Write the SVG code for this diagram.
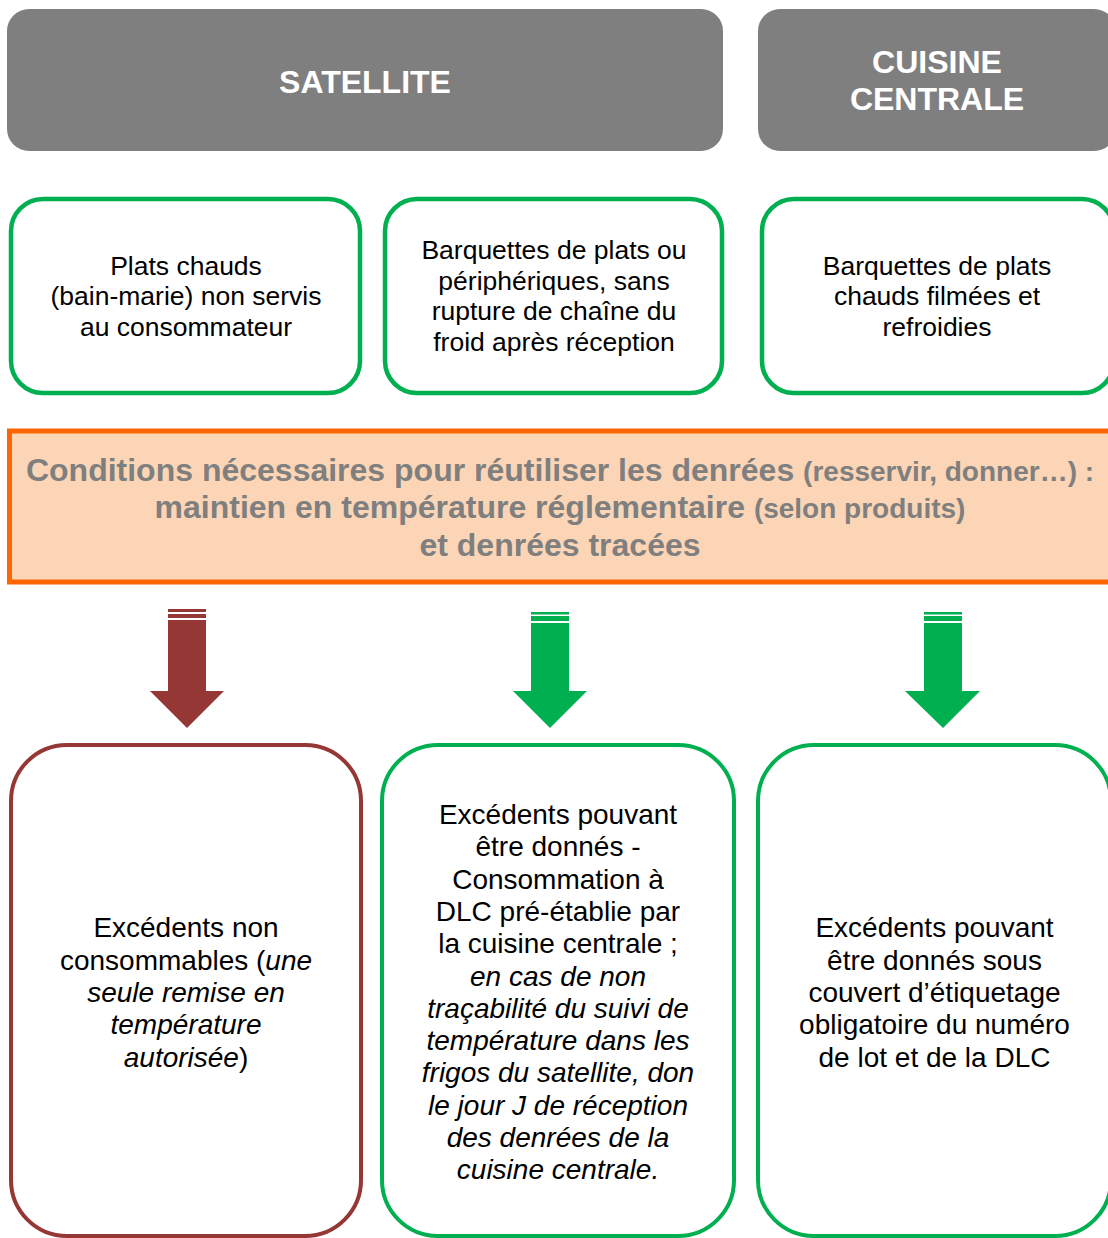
<svg xmlns="http://www.w3.org/2000/svg" width="1108" height="1238" viewBox="0 0 1108 1238">
<style>
text{font-family:"Liberation Sans",Arial,sans-serif;text-anchor:middle}
.hdr{fill:#7F7F7F}
.hdrt{fill:#FFFFFF;font-size:32px;font-weight:bold}
.gbox{fill:#FFFFFF;stroke:#00B050;stroke-width:4}
.top{stroke-width:4.5}
.rbox{fill:#FFFFFF;stroke:#953735;stroke-width:4}
.t1{fill:#000000;font-size:26.5px}
.t2{fill:#000000;font-size:28px}
.i{font-style:italic}
.cond{fill:#7F7F7F;font-weight:bold;font-size:32px}
.sm{font-size:28px}
.ga{fill:#00B050}
.ra{fill:#953735}
</style>
<rect width="1108" height="1238" fill="#FFFFFF"/>
<g id="satellite">
<rect class="hdr" x="7" y="9" width="716" height="142" rx="22"/>
<text class="hdrt" x="365" y="92.5">SATELLITE</text>
</g>
<g id="cuisine-centrale">
<rect class="hdr" x="758" y="9" width="358" height="142" rx="22"/>
<text class="hdrt" x="937" y="72.5">CUISINE</text>
<text class="hdrt" x="937" y="109.5">CENTRALE</text>
</g>
<g id="plats-chauds">
<rect class="gbox top" x="11" y="199" width="349" height="194" rx="32"/>
<text class="t1" x="186" y="274.5">Plats chauds</text>
<text class="t1" x="186" y="305">(bain-marie) non servis</text>
<text class="t1" x="186" y="335.5">au consommateur</text>
</g>
<g id="barquettes-peripheriques">
<rect class="gbox top" x="385" y="199" width="337" height="194" rx="32"/>
<text class="t1" x="554" y="259">Barquettes de plats ou</text>
<text class="t1" x="554" y="289.5">périphériques, sans</text>
<text class="t1" x="554" y="320">rupture de chaîne du</text>
<text class="t1" x="554" y="350.5">froid après réception</text>
</g>
<g id="barquettes-filmees">
<rect class="gbox top" x="762" y="199" width="352" height="194" rx="32"/>
<text class="t1" x="937" y="274.5">Barquettes de plats</text>
<text class="t1" x="937" y="305">chauds filmées et</text>
<text class="t1" x="937" y="335.5">refroidies</text>
</g>
<g id="conditions">
<rect x="9.5" y="431" width="1106" height="151" fill="#FBD5B5" stroke="#FF6600" stroke-width="5"/>
<text class="cond" x="560" y="480.5">Conditions nécessaires pour réutiliser les denrées <tspan class="sm">(resservir, donner…) :</tspan></text>
<text class="cond" x="560" y="518">maintien en température réglementaire <tspan class="sm">(selon produits)</tspan></text>
<text class="cond" x="560" y="555.5">et denrées tracées</text>
</g>
<g id="connectors">
<g id="arrow-red">
<rect class="ra" x="168" y="609" width="38" height="3"/>
<rect class="ra" x="168" y="614" width="38" height="4"/>
<polygon class="ra" points="168,620 206,620 206,691 224,691 187,728 150,691 168,691"/>
</g>
<g id="arrow-green-1">
<rect class="ga" x="531" y="612" width="38" height="2.5"/>
<rect class="ga" x="531" y="616" width="38" height="5"/>
<polygon class="ga" points="531,623 569,623 569,691 587,691 550,728 513,691 531,691"/>
</g>
<g id="arrow-green-2">
<rect class="ga" x="924" y="612" width="38" height="2.5"/>
<rect class="ga" x="924" y="616" width="38" height="5"/>
<polygon class="ga" points="924,623 962,623 962,691 980,691 943,728 905,691 924,691"/>
</g>
</g>
<g id="excedents-non-consommables">
<rect class="rbox" x="11" y="745" width="350" height="491" rx="56"/>
<text class="t2" x="186" y="937">Excédents non</text>
<text class="t2" x="186" y="969.5">consommables (<tspan class="i">une</tspan></text>
<text class="t2 i" x="186" y="1002">seule remise en</text>
<text class="t2 i" x="186" y="1034">température</text>
<text class="t2" x="186" y="1066.5"><tspan class="i">autorisée</tspan>)</text>
</g>
<g id="excedents-dlc">
<rect class="gbox" x="382" y="745" width="352" height="491" rx="56"/>
<text class="t2" x="558" y="824">Excédents pouvant</text>
<text class="t2" x="558" y="856.3">être donnés -</text>
<text class="t2" x="558" y="888.6">Consommation à</text>
<text class="t2" x="558" y="920.9">DLC pré-établie par</text>
<text class="t2" x="558" y="953.2">la cuisine centrale ;</text>
<text class="t2 i" x="558" y="985.5">en cas de non</text>
<text class="t2 i" x="558" y="1017.8">traçabilité du suivi de</text>
<text class="t2 i" x="558" y="1050.1">température dans les</text>
<text class="t2 i" x="558" y="1082.4">frigos du satellite, don</text>
<text class="t2 i" x="558" y="1114.7">le jour J de réception</text>
<text class="t2 i" x="558" y="1147">des denrées de la</text>
<text class="t2 i" x="558" y="1179.3">cuisine centrale.</text>
</g>
<g id="excedents-etiquetage">
<rect class="gbox" x="758" y="745" width="353" height="491" rx="56"/>
<text class="t2" x="934.5" y="937">Excédents pouvant</text>
<text class="t2" x="934.5" y="969.5">être donnés sous</text>
<text class="t2" x="934.5" y="1002">couvert d’étiquetage</text>
<text class="t2" x="934.5" y="1034">obligatoire du numéro</text>
<text class="t2" x="934.5" y="1066.5">de lot et de la DLC</text>
</g>
</svg>
